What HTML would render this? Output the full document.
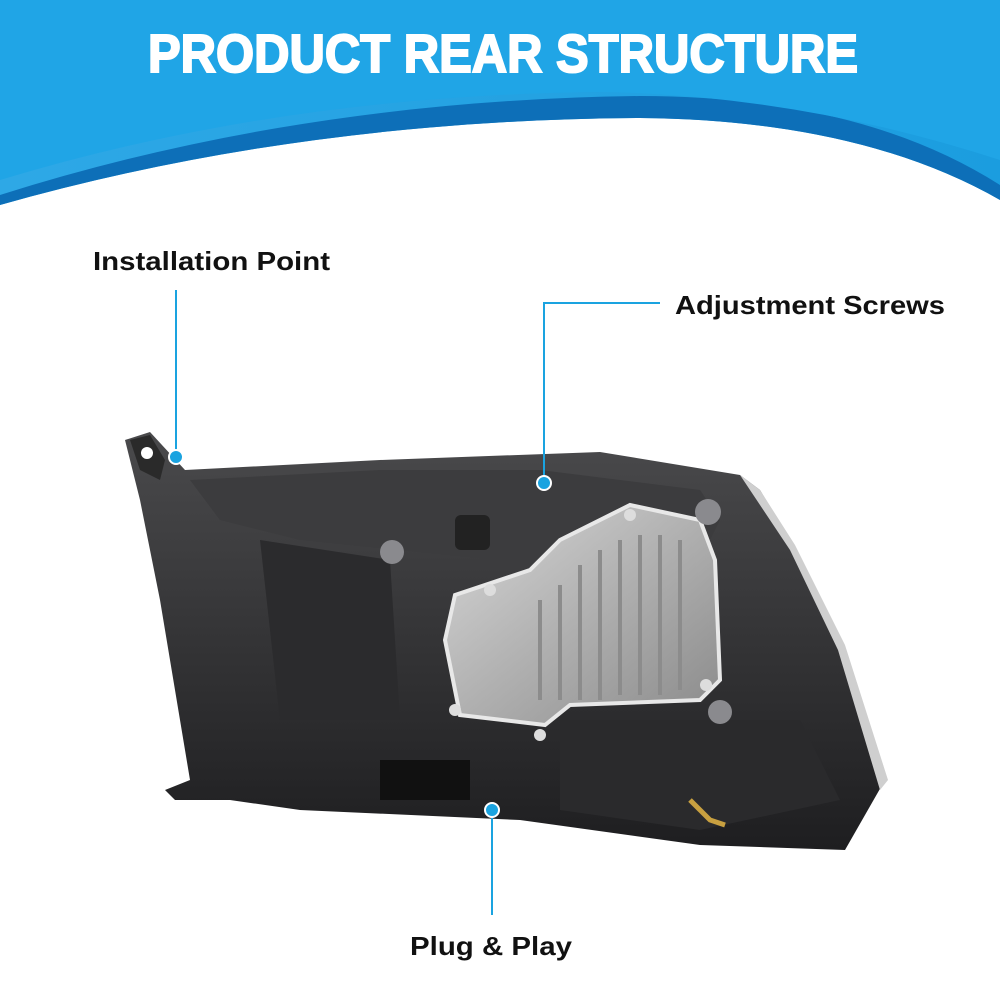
<!DOCTYPE html>
<html><head><meta charset="utf-8"><style>
html,body{margin:0;padding:0;background:#fff;width:1000px;height:1000px;overflow:hidden}
svg{display:block}
text{font-family:"Liberation Sans",Arial,sans-serif;font-weight:bold}
</style></head><body>
<svg width="1000" height="1000" viewBox="0 0 1000 1000" xmlns="http://www.w3.org/2000/svg">
<defs>
<linearGradient id="hb" x1="0" y1="0" x2="1" y2="0"><stop offset="0" stop-color="#2ea8e6"/><stop offset="1" stop-color="#1b9ddf"/></linearGradient>
<linearGradient id="al" x1="0" y1="0" x2="1" y2="1"><stop offset="0" stop-color="#d8d8d8"/><stop offset="0.5" stop-color="#b0b0b0"/><stop offset="1" stop-color="#8a8a8a"/></linearGradient>
<linearGradient id="hs" x1="0" y1="0" x2="0" y2="1"><stop offset="0" stop-color="#4a4a4c"/><stop offset="1" stop-color="#1e1e20"/></linearGradient>
</defs>
<path d="M0 0H1000V200Q860 120 640 118Q300 120 0 205Z" fill="url(#hb)"/>
<path d="M0 205Q300 120 640 118Q860 120 1000 200V185Q860 96 640 96Q300 100 0 195Z" fill="#0d6fb8"/>
<path d="M0 0H1000V160Q800 95 600 92Q280 95 0 180Z" fill="#20a5e6"/>
<text x="148" y="72" textLength="710" lengthAdjust="spacingAndGlyphs" font-size="54" fill="#fff" stroke="#fff" stroke-width="2">PRODUCT REAR STRUCTURE</text>
<path d="M125 440L150 432L185 470L380 460L600 452L740 475L760 490L790 540L840 640L885 780L845 850L700 845L520 820L300 810L230 800L175 800L165 790L190 780L180 720L160 600L140 500Z" fill="url(#hs)"/>
<path d="M740 475L760 490L795 545L845 645L888 780L880 790L838 650L790 550Z" fill="#cfcfcf"/>
<path d="M190 480L380 470L540 470L700 490L720 520L700 560L500 560L300 540L220 520Z" fill="#3c3c3e"/>
<path d="M260 540L390 560L400 720L280 720Z" fill="#2b2b2d"/>
<path d="M560 720L800 720L840 800L700 830L560 810Z" fill="#2a2a2c"/>
<path d="M380 760L470 760L470 800L380 800Z" fill="#111"/>
<path d="M455 595L530 570L560 540L630 505L700 520L715 560L720 680L700 700L570 705L545 725L460 715L445 640Z" fill="url(#al)"/>
<path d="M455 595L530 570L560 540L630 505L700 520L715 560L720 680L700 700L570 705L545 725L460 715L445 640Z" fill="none" stroke="#e8e8e8" stroke-width="4"/>
<g stroke="#8c8c8c" stroke-width="4">
<line x1="540" y1="600" x2="540" y2="700"/><line x1="560" y1="585" x2="560" y2="700"/><line x1="580" y1="565" x2="580" y2="700"/><line x1="600" y1="550" x2="600" y2="700"/><line x1="620" y1="540" x2="620" y2="695"/><line x1="640" y1="535" x2="640" y2="695"/><line x1="660" y1="535" x2="660" y2="695"/><line x1="680" y1="540" x2="680" y2="690"/>
</g>
<g fill="#ddd"><circle cx="630" cy="515" r="6"/><circle cx="706" cy="685" r="6"/><circle cx="455" cy="710" r="6"/><circle cx="540" cy="735" r="6"/><circle cx="490" cy="590" r="6"/></g>
<g fill="#8a8a8e"><circle cx="392" cy="552" r="12"/><circle cx="708" cy="512" r="13"/><circle cx="720" cy="712" r="12"/></g>
<rect x="455" y="515" width="35" height="35" rx="6" fill="#222"/>
<path d="M130 440L150 435L165 460L160 480L140 470Z" fill="#2a2a2a"/>
<circle cx="147" cy="453" r="6" fill="#fff"/>
<path d="M690 800L710 820L725 825" stroke="#c8a040" stroke-width="5" fill="none"/>
<g stroke="#1aa3e0" stroke-width="2" fill="none">
<line x1="176" y1="290" x2="176" y2="455"/>
<polyline points="660,303 544,303 544,482"/>
<line x1="492" y1="812" x2="492" y2="915"/>
</g>
<g fill="#1aa3e0" stroke="#fff" stroke-width="2">
<circle cx="176" cy="457" r="7"/><circle cx="544" cy="483" r="7"/><circle cx="492" cy="810" r="7"/>
</g>
<text x="93" y="270" font-size="26" textLength="237" lengthAdjust="spacingAndGlyphs" fill="#111">Installation Point</text>
<text x="675" y="314" font-size="26" textLength="270" lengthAdjust="spacingAndGlyphs" fill="#111">Adjustment Screws</text>
<text x="410" y="955" font-size="26" textLength="162" lengthAdjust="spacingAndGlyphs" fill="#111">Plug &amp; Play</text>
</svg>
</body></html>
